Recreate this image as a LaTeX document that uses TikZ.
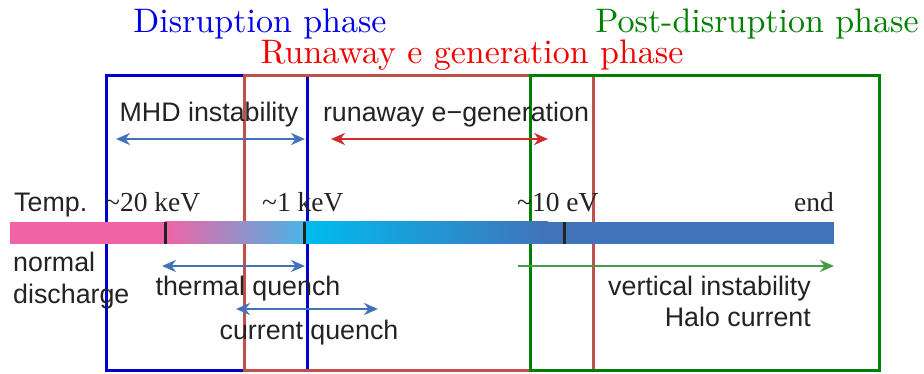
\documentclass[tikz,border=0pt]{standalone}
\usepackage{fontspec}
\newfontfamily\labelsans{Liberation Sans}
\newfontfamily\labelserif{lmroman10-regular.otf}
\newfontfamily\tempserif{Liberation Serif}
\usetikzlibrary{arrows.meta}

\definecolor{disrupt}{RGB}{0,0,205}
\definecolor{disrupttext}{RGB}{0,0,235}
\definecolor{runaway}{RGB}{192,80,77}
\definecolor{runawaytext}{RGB}{240,0,0}
\definecolor{post}{RGB}{0,128,0}
\definecolor{arrowblue}{RGB}{68,114,186}
\definecolor{arrowred}{RGB}{205,45,45}
\definecolor{arrowgreen}{RGB}{70,155,70}
\definecolor{barpink}{RGB}{240,100,165}
\definecolor{barlight}{RGB}{75,180,230}
\definecolor{barcyan}{RGB}{0,188,240}
\definecolor{barblue}{RGB}{65,115,185}
\definecolor{ink}{RGB}{35,35,35}

\tikzset{
  heading/.style={inner sep=0pt, anchor=base, font=\labelserif\fontsize{34}{40}\selectfont},
  templabel/.style={inner sep=0pt, anchor=base west, text=ink, font=\tempserif\fontsize{27.5}{32}\selectfont},
  sanslabel/.style={inner sep=0pt, anchor=base, text=ink, font=\labelsans\fontsize{26.8}{31}\selectfont},
  phasebox/.style={draw, line width=3pt, inner sep=0pt, anchor=north west},
  span/.style={line width=2.4pt, {Stealth[length=14pt,width=12pt]}-{Stealth[length=14pt,width=12pt]}},
  onward/.style={line width=2.4pt, -{Stealth[length=14pt,width=12pt]}},
  tick/.style={draw=ink, line width=3pt},
}

\begin{document}
\begin{tikzpicture}[x=1pt,y=-1pt]
\useasboundingbox (0,0) rectangle (924,374);

% phase boxes
\node[phasebox, draw=disrupt, minimum width=201pt, minimum height=295pt] (dbox) at (105,74) {};
\node[phasebox, draw=runaway, minimum width=349pt, minimum height=295pt] (rbox) at (243,74) {};
\node[phasebox, draw=post, minimum width=349pt, minimum height=295pt] (pbox) at (529,74) {};

% phase headings
\node[heading, text=disrupttext] (dhead) at (260,33) {Disruption phase};
\node[heading, text=runawaytext] (rhead) at (472,64) {Runaway e generation phase};
\node[heading, text=post] (phead) at (757,33) {Post-disruption phase};

% temperature bar
\fill[barpink] (10,222) rectangle (165,244);
\shade[left color=barpink, right color=barlight] (165,222) rectangle (304,244);
\shade[left color=barcyan, right color=barblue] (304,222) rectangle (548,244);
\fill[barblue] (547.5,222) rectangle (834,244);
\draw[tick] (165,222) -- (165,244);
\draw[tick] (304,222) -- (304,244);
\draw[tick] (564,222) -- (564,244);

% temperature labels
\node[sanslabel, anchor=base west] (temp) at (14,212) {Temp.};
\node[templabel] (t20) at (105,212) {\textasciitilde20 keV};
\node[templabel] (t1) at (262,212) {\textasciitilde1 keV};
\node[templabel] (t10) at (517,212) {\textasciitilde10 eV};
\node[templabel, anchor=base east] (tend) at (834,212) {end};

% event labels
\node[sanslabel] (mhd) at (209,122) {MHD instability};
\node[sanslabel] (reg) at (456,122) {runaway e−generation};
\node[sanslabel, anchor=base west] (normal) at (13,272) {normal};
\node[sanslabel, anchor=base west] (discharge) at (13,303) {discharge};
\node[sanslabel] (tq) at (248,295) {thermal quench};
\node[sanslabel] (cq) at (309,339) {current quench};
\node[sanslabel, anchor=base east] (vi) at (811,295) {vertical instability};
\node[sanslabel, anchor=base east] (halo) at (811,326) {Halo current};

% arrow end points
\coordinate (mhdA) at (116,139);
\coordinate (mhdB) at (305,139);
\coordinate (regA) at (331,139);
\coordinate (regB) at (548,139);
\coordinate (tqA) at (162,266);
\coordinate (tqB) at (305,266);
\coordinate (cqA) at (236,309);
\coordinate (cqB) at (378,309);
\coordinate (viA) at (518,266);
\coordinate (viB) at (834,266);

\draw[span, arrowblue] (mhdA) -- (mhdB);
\draw[span, arrowred] (regA) -- (regB);
\draw[span, arrowblue] (tqA) -- (tqB);
\draw[span, arrowblue] (cqA) -- (cqB);
\draw[onward, arrowgreen] (viA) -- (viB);
\end{tikzpicture}
\end{document}
